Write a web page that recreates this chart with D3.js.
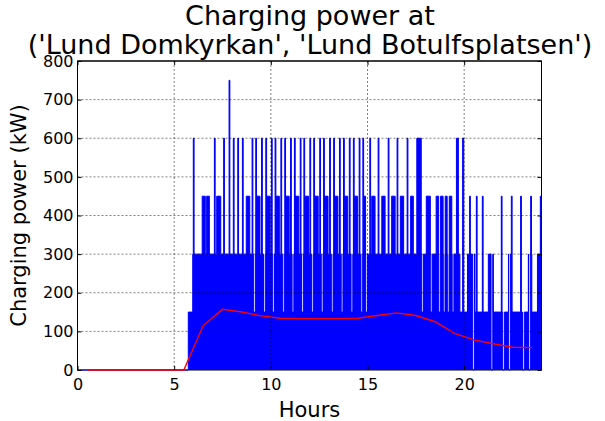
<!DOCTYPE html>
<html>
<head>
<meta charset="utf-8">
<script src="https://cdn.jsdelivr.net/npm/d3@7"></script>
<style>
  body { margin: 0; background: #fff; }
  text { font-family: "DejaVu Sans", sans-serif; fill: #000; }
</style>
</head>
<body>
<svg id="chart" width="605" height="421"></svg>
<script>
// tick labels
const hourTicks = [0, 5, 10, 15, 20];
const kwTicks = [0, 100, 200, 300, 400, 500, 600, 700, 800];

// base charging level (kW) from each hour on
const baseHours = [0, 5.73, 5.96, 19.78, 20.17, 20.56, 21.25, 21.51, 22.29, 22.46, 23.32, 23.50, 23.79];
const baseKW    = [0, 150, 300, 150, 300, 150, 300, 150, 300, 150, 300, 150, 300];

// short peaks above the base level
const peakStart = [5.99, 6.45, 6.68, 7.08, 7.20, 7.56, 7.84, 8.06, 8.29, 8.53, 8.73, 9.03,
  9.22, 9.27, 9.52, 9.74, 9.79, 10.03, 10.22, 10.27, 10.52, 10.72, 10.77, 11.02,
  11.22, 11.27, 11.52, 11.71, 11.77, 12.02, 12.22, 12.28, 12.53, 12.73, 12.78, 13.04,
  13.25, 13.30, 13.55, 13.76, 13.81, 14.06, 14.27, 14.32, 14.57, 14.76, 14.81,
  15.12, 15.22, 15.55, 15.74, 16.07, 16.25, 16.53, 16.70, 17.05, 17.23, 17.55,
  18.04, 18.55, 18.78, 19.02, 19.23, 19.60, 19.92,
  20.28, 20.63, 20.94, 21.92, 22.44, 22.92, 23.44, 23.94];
const peakEnd = [6.03, 6.61, 6.82, 7.12, 7.41, 7.60, 7.88, 8.10, 8.33, 8.57, 8.91, 9.07,
  9.26, 9.44, 9.56, 9.78, 9.97, 10.07, 10.26, 10.44, 10.56, 10.76, 10.95, 11.06,
  11.26, 11.45, 11.56, 11.75, 11.95, 12.06, 12.26, 12.45, 12.57, 12.77, 12.96, 13.08,
  13.29, 13.47, 13.59, 13.80, 13.98, 14.10, 14.31, 14.49, 14.61, 14.80, 14.90,
  15.16, 15.39, 15.59, 15.91, 16.11, 16.43, 16.57, 16.87, 17.09, 17.37, 17.78,
  18.25, 18.68, 18.91, 19.12, 19.36, 19.70, 19.98,
  20.32, 20.67, 20.98, 21.96, 22.48, 22.96, 23.48, 23.98];
const peakKW = [600, 450, 450, 600, 450, 600, 750, 600, 600, 600, 450, 600,
  600, 450, 600, 600, 450, 600, 600, 450, 600, 600, 450, 600,
  600, 450, 600, 600, 450, 600, 600, 450, 600, 600, 450, 600,
  600, 450, 600, 600, 450, 600, 600, 450, 600, 600, 450,
  600, 450, 600, 450, 600, 450, 600, 450, 600, 450, 600,
  450, 450, 450, 450, 450, 600, 600,
  450, 450, 450, 450, 450, 450, 450, 450];

// short drops below the base level
const dipStart = [9.11, 9.62, 10.10, 10.60, 11.10, 11.59, 12.10, 12.61, 13.13, 13.64, 14.15, 14.66, 14.90,
  17.81, 18.25, 18.69, 18.92, 19.13, 19.38, 19.80,
  20.44, 21.39, 21.99, 22.30, 23.02, 23.33];
const dipEnd = [9.20, 9.71, 10.19, 10.69, 11.19, 11.68, 12.19, 12.70, 13.22, 13.73, 14.24, 14.75, 14.99,
  17.90, 18.34, 18.78, 19.01, 19.22, 19.47, 19.89,
  20.53, 21.48, 22.08, 22.39, 23.11, 23.42];
const dipKW = [150, 150, 150, 150, 150, 150, 150, 150, 150, 150, 150, 150, 150,
  150, 150, 150, 150, 150, 150, 150,
  0, 0, 0, 0, 0, 0];

// hourly mean power
const avgHours = [0.5, 1.5, 2.5, 3.5, 4.5, 5.5, 6.5, 7.5, 8.5, 9.5, 10.5, 11.5,
  12.5, 13.5, 14.5, 15.5, 16.5, 17.5, 18.5, 19.5, 20.5, 21.5, 22.5, 23.5];
const avgKW = [0, 0, 0, 0, 0, 0, 115, 157, 150, 140, 134, 133,
  133, 133, 134, 141, 148, 141, 125, 95, 78, 68, 59, 58];

const svg = d3.select("#chart");
const W = 605, H = 421;
const margin = { left: 77.5, right: W - 541.5, top: 61, bottom: H - 370 };
const iw = W - margin.left - margin.right;
const ih = H - margin.top - margin.bottom;

const x = d3.scaleLinear().domain([0, 24]).range([0, iw]);
const y = d3.scaleLinear().domain([0, 800]).range([ih, 0]);

// combine base, peaks and dips into one step series
function levelAt(t) {
  for (let i = 0; i < dipStart.length; i++) if (t >= dipStart[i] && t < dipEnd[i]) return dipKW[i];
  for (let i = 0; i < peakStart.length; i++) if (t >= peakStart[i] && t < peakEnd[i]) return peakKW[i];
  let v = 0;
  for (let i = 0; i < baseHours.length; i++) if (baseHours[i] <= t) v = baseKW[i];
  return v;
}
const cuts = Array.from(new Set([...baseHours, ...peakStart, ...peakEnd, ...dipStart, ...dipEnd, 24]))
  .sort((a, b) => a - b);
const power = cuts.map(t => ({ h: t, kw: levelAt(t) }));

const g = svg.append("g").attr("transform", `translate(${margin.left},${margin.top})`);

g.append("defs").append("clipPath").attr("id", "clip")
  .append("rect").attr("y", -10).attr("width", iw).attr("height", ih + 20);

// frame and grid first, data on top like matplotlib classic lines
g.append("rect").attr("width", iw).attr("height", ih)
  .attr("fill", "none").attr("stroke", "#000").attr("stroke-width", 1);

const plot = g.append("g").attr("clip-path", "url(#clip)");

plot.append("path")
  .datum(power)
  .attr("fill", "#0000ff")
  .attr("d", d3.area().curve(d3.curveStepAfter)
    .x(d => x(d.h)).y0(y(0)).y1(d => y(d.kw)));

plot.append("path")
  .datum(power)
  .attr("fill", "none").attr("stroke", "#0000ff").attr("stroke-width", 1)
  .attr("d", d3.line().curve(d3.curveStepAfter).x(d => x(d.h)).y(d => y(d.kw)));

plot.append("path")
  .datum(avgHours.map((h, i) => ({ h, kw: avgKW[i] })))
  .attr("fill", "none").attr("stroke", "#ff0000").attr("stroke-width", 1.4)
  .attr("d", d3.line().x(d => x(d.h)).y(d => y(d.kw)));

// grid over the data
const grid = g.append("g").attr("stroke", "#000").attr("stroke-width", 0.5)
  .attr("stroke-dasharray", "2,2");
grid.selectAll("line.v").data(hourTicks.slice(1)).enter().append("line")
  .attr("x1", d => x(d)).attr("x2", d => x(d)).attr("y1", 0).attr("y2", ih);
grid.selectAll("line.h").data(kwTicks.slice(1, -1)).enter().append("line")
  .attr("y1", d => y(d)).attr("y2", d => y(d)).attr("x1", 0).attr("x2", iw);

// axes, ticks pointing inward on all sides
function styleAxis(sel) {
  sel.select(".domain").remove();
  sel.selectAll(".tick line").attr("stroke", "#000").attr("stroke-width", 1);
  sel.selectAll("text").style("font-size", "16px").attr("fill", "#000");
}
g.append("g").attr("transform", `translate(0,${ih})`)
  .call(d3.axisBottom(x).tickValues(hourTicks).tickSizeInner(-4).tickSizeOuter(0).tickPadding(9))
  .call(styleAxis);
g.append("g")
  .call(d3.axisTop(x).tickValues(hourTicks).tickSizeInner(-4).tickSizeOuter(0).tickFormat(""))
  .call(styleAxis);
g.append("g")
  .call(d3.axisLeft(y).tickValues(kwTicks).tickSizeInner(-4).tickSizeOuter(0).tickPadding(4))
  .call(styleAxis);
g.append("g").attr("transform", `translate(${iw},0)`)
  .call(d3.axisRight(y).tickValues(kwTicks).tickSizeInner(-4).tickSizeOuter(0).tickFormat(""))
  .call(styleAxis);

// right and top frame edges drawn again so data stays inside
g.append("line").attr("x1", iw).attr("x2", iw).attr("y1", 0).attr("y2", ih)
  .attr("stroke", "#000");
g.append("line").attr("x1", 0).attr("x2", iw).attr("y1", 0).attr("y2", 0)
  .attr("stroke", "#000");

// labels
svg.append("text").attr("x", 310).attr("y", 25).attr("text-anchor", "middle")
  .style("font-size", "27px").text("Charging power at");
svg.append("text").attr("x", 310).attr("y", 54).attr("text-anchor", "middle")
  .style("font-size", "27px").text("('Lund Domkyrkan', 'Lund Botulfsplatsen')");
svg.append("text").attr("x", margin.left + iw / 2).attr("y", 417).attr("text-anchor", "middle")
  .style("font-size", "21px").text("Hours");
svg.append("text").attr("transform", `translate(26,${margin.top + ih / 2}) rotate(-90)`)
  .attr("text-anchor", "middle").style("font-size", "21px").text("Charging power (kW)");
</script>
</body>
</html>
